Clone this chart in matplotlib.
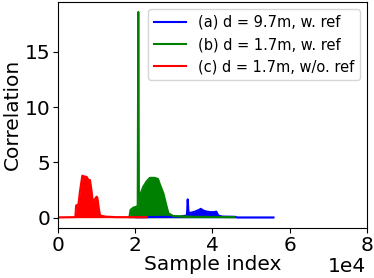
import matplotlib
matplotlib.use("Agg")
import matplotlib.pyplot as plt

# Envelope of each correlation trace (sample index, value)
a_x = [20000, 31500, 32500, 33400, 33600, 33800, 34500, 35500, 36500, 37000, 37600, 38500, 39500, 40500, 41000, 41500, 42500, 45800, 46500, 55800]
a_y = [0.05, 0.08, 0.15, 0.2, 1.65, 0.45, 0.45, 0.55, 0.7, 0.8, 0.65, 0.55, 0.5, 0.5, 0.55, 0.2, 0.1, 0.08, 0.02, 0.02]

b_x = [18500, 18800, 19500, 20400, 20650, 20800, 20950, 21200, 22100, 23000, 23800, 25000, 25900, 26400, 27300, 28000, 28600, 29800, 35000, 45800]
b_y = [0.05, 0.7, 0.9, 1.0, 1.0, 18.6, 2.0, 2.0, 2.8, 3.3, 3.6, 3.6, 3.5, 3.0, 2.2, 1.2, 0.4, 0.15, 0.08, 0.05]

c_x = [0, 4500, 4700, 5300, 5700, 6300, 7000, 7400, 7900, 8300, 8700, 9000, 9600, 10000, 10200, 10600, 10900, 12200, 15000, 23000]
c_y = [0.03, 0.05, 1.1, 1.2, 2.4, 3.8, 3.7, 3.7, 3.4, 3.4, 2.4, 1.5, 1.7, 1.9, 1.8, 0.8, 0.2, 0.1, 0.05, 0.05]

labels = ["(a) d = 9.7m, w. ref", "(b) d = 1.7m, w. ref", "(c) d = 1.7m, w/o. ref"]

fig, ax = plt.subplots(figsize=(3.74, 2.78), dpi=100)
fig.subplots_adjust(left=0.155, right=0.981, bottom=0.18, top=0.994)

for xs, ys, col, lab in [(a_x, a_y, "b", labels[0]), (b_x, b_y, "g", labels[1]), (c_x, c_y, "r", labels[2])]:
    ax.fill_between(xs, 0, ys, color=col, linewidth=0)
    ax.plot(xs, ys, color=col, linewidth=1.5, label=lab)

ax.set_xlim(0, 80000)
ax.set_xticks([0, 20000, 40000, 60000, 80000])
ax.set_xticklabels(["0", "2", "4", "6", "8"])
ax.set_yticks([0, 5, 10, 15])
ax.tick_params(labelsize=14.5, pad=2)
ax.set_xlabel("Sample index", fontsize=14.5, labelpad=0)
ax.set_ylabel("Correlation", fontsize=14.5, labelpad=2)
# scale factor placed level with the x label, as in the original
fig.text(0.979, 0.04, "1e4", fontsize=14.5, ha="right", va="center")
ax.legend(loc="upper right", fontsize=10.5, handlelength=2.2)

fig.savefig("out.png")
